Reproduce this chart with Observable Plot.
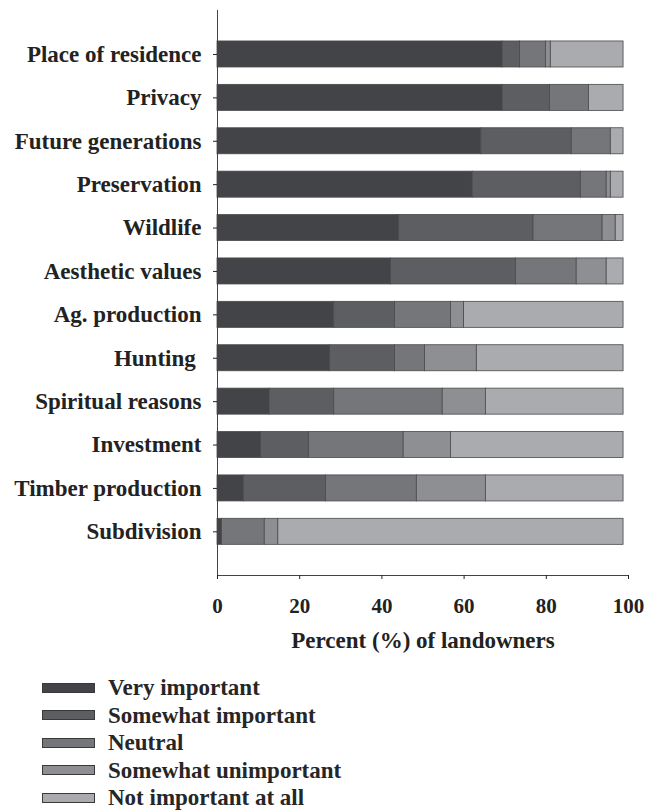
<!DOCTYPE html>
<html>
<head>
<meta charset="utf-8">
<script src="https://cdn.jsdelivr.net/npm/d3@7"></script>
<script src="https://cdn.jsdelivr.net/npm/@observablehq/plot@0.6"></script>
<style>
  body { margin: 0; background: #fff; font-family: "Liberation Serif", "Times New Roman", serif; overflow: hidden; }
  #chart svg { display: block; }
  #legend { margin-left: 42px; margin-top: 14px; }
  .item { display: flex; align-items: center; height: 27.5px; font-weight: bold; font-size: 23px; color: #262626; line-height: 1; }
  .sw { width: 51px; height: 8px; border: 1px solid #3a3a3a; margin-right: 13px; flex: none; }
</style>
</head>
<body>
<div id="chart"></div>
<div id="legend"></div>
<script>
const categories = ["Place of residence", "Privacy", "Future generations", "Preservation", "Wildlife",
  "Aesthetic values", "Ag. production", "Hunting ", "Spiritual reasons", "Investment",
  "Timber production", "Subdivision"];
const series = ["Very important", "Somewhat important", "Neutral", "Somewhat unimportant", "Not important at all"];
const veryImportant =       [69.4, 69.4, 64.2, 62.1, 44.2, 42.2, 28.4, 27.4, 12.7, 10.6, 6.4, 1.1];
const somewhatImportant =   [4.2, 11.5, 22.0, 26.3, 32.7, 30.4, 14.8, 15.8, 15.7, 11.7, 20.0, 0.0];
const neutral =             [6.3, 9.5, 9.5, 6.3, 16.8, 14.8, 13.6, 7.3, 26.4, 23.0, 22.1, 10.4];
const somewhatUnimportant = [1.2, 0.0, 0.0, 1.0, 3.2, 7.3, 3.2, 12.6, 10.5, 11.5, 16.8, 3.3];
const notImportant =        [17.7, 8.4, 3.1, 3.1, 1.9, 4.1, 38.8, 35.7, 33.5, 42.0, 33.5, 84.0];
const xTicks = [0, 20, 40, 60, 80, 100];
const colors = ["#434447", "#5d5e61", "#75767a", "#8e8f92", "#aaabae"];

const valueArrays = [veryImportant, somewhatImportant, neutral, somewhatUnimportant, notImportant];
const data = [];
categories.forEach((c, i) => {
  series.forEach((s, j) => data.push({category: c, series: s, value: valueArrays[j][i]}));
});

const plot = Plot.plot({
  width: 647,
  height: 660,
  marginLeft: 217,
  marginRight: 19,
  marginTop: 10,
  marginBottom: 85,
  style: {fontFamily: "Liberation Serif", fontWeight: "bold", fontSize: "21px", color: "#222", overflow: "visible"},
  x: {domain: [0, 100], ticks: xTicks},
  y: {domain: categories, padding: 0.4, round: false, insetTop: 13.6, insetBottom: 13.3},
  color: {domain: series, range: colors},
  marks: [
    Plot.barX(data, Plot.stackX({y: "category", x: "value", fill: "series", stroke: "#4a4a4a", strokeWidth: 0.8})),
    Plot.frame({anchor: "left", stroke: "#444"}),
    Plot.frame({anchor: "bottom", stroke: "#444"}),
    Plot.axisY({tickSize: 4, tickPadding: 12, fontSize: 23, fontWeight: "bold", label: null}),
    Plot.axisX({ticks: xTicks, tickSize: 4, tickPadding: 19, fontSize: 21, fontWeight: "bold", label: null}),
    Plot.axisX({ticks: [], tickSize: 0, fontSize: 23, fontWeight: "bold",
      label: "Percent (%) of landowners", labelAnchor: "center", labelArrow: "none", labelOffset: 72})
  ]
});
document.getElementById("chart").appendChild(plot);

const legend = document.getElementById("legend");
series.forEach((s, i) => {
  const item = document.createElement("div");
  item.className = "item";
  const sw = document.createElement("div");
  sw.className = "sw";
  sw.style.background = colors[i];
  const label = document.createElement("span");
  label.textContent = s;
  item.appendChild(sw);
  item.appendChild(label);
  legend.appendChild(item);
});
</script>
</body>
</html>
